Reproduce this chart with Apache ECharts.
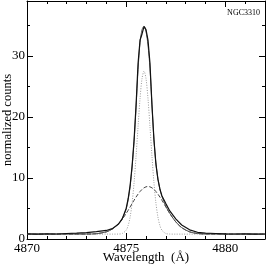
<!DOCTYPE html>
<html><head><meta charset="utf-8">
<script src="https://cdn.jsdelivr.net/npm/echarts@6/dist/echarts.min.js"></script>
<style>html,body{margin:0;padding:0;background:#fff}#c{width:266px;height:268px}</style>
</head><body><div id="c"></div>
<script>
const compWave = [4870,4871,4872,4873,4873.5,4874,4874.3,4874.6,4874.8,4875.0,4875.1,4875.2,4875.3,4875.4,4875.5,4875.6,4875.7,4875.8,4875.9,4876.0,4876.1,4876.2,4876.3,4876.4,4876.5,4876.6,4876.7,4876.8,4877.0,4877.2,4877.5,4877.8,4878.2,4878.6,4879,4880,4881,4882];
const narrowVals = [0.8,0.8,0.8,0.8,0.8,0.8,0.8,0.81,0.90,1.45,2.21,3.61,5.91,9.27,13.61,18.46,23.02,26.30,27.5,26.30,23.02,18.46,13.61,9.27,5.91,3.61,2.21,1.45,0.90,0.81,0.8,0.8,0.8,0.8,0.8,0.8,0.8,0.8];
const broadVals = [0.8,0.8,0.8,0.81,0.87,1.17,1.63,2.44,3.22,4.18,4.70,5.25,5.81,6.36,6.88,7.36,7.78,8.13,8.39,8.55,8.6,8.55,8.39,8.13,7.78,7.36,6.88,6.36,5.25,4.18,2.81,1.86,1.17,0.90,0.82,0.8,0.8,0.8];
const fitVals = [0.8,0.8,0.8,0.81,0.87,1.17,1.63,2.45,3.32,4.9,6.4,8.6,11.8,16.0,21.6,27.8,32.2,34.3,34.9,34.0,31.8,28.0,22.0,16.3,12.4,9.9,8.2,7.0,5.35,4.19,2.81,1.86,1.17,0.90,0.82,0.8,0.8,0.8];
const dataWave = [4870.0,4870.5,4871.0,4871.5,4872.0,4872.5,4873.0,4873.5,4874.0,4874.3,4874.6,4874.8,4875.0,4875.1,4875.2,4875.3,4875.4,4875.5,4875.6,4875.7,4875.8,4875.9,4876.0,4876.1,4876.2,4876.3,4876.4,4876.5,4876.6,4876.7,4876.8,4877.0,4877.2,4877.5,4877.8,4878.2,4878.6,4879.0,4879.5,4880.0,4880.5,4881.0,4881.5,4882.0];
const dataVals = [0.85,0.8,0.85,0.82,0.9,0.95,1.05,1.2,1.4,1.7,2.4,3.3,5.0,6.6,8.8,12.0,16.3,22.0,28.8,32.6,33.6,34.8,34.3,32.6,28.8,22.0,16.3,12.3,9.8,8.2,7.1,5.8,4.6,3.3,2.3,1.5,1.1,0.95,0.9,0.85,0.82,0.85,0.8,0.82];
const xRange = [4870, 4882];
const yRange = [0, 39];
const xLabel = 'Wavelength  (Å)';
const yLabel = 'normalized counts';
const tag = 'NGC3310';

const pair = (xs, ys) => xs.map((x, i) => [x, ys[i]]);
const font = 'Liberation Serif, Times New Roman, serif';
const chart = echarts.init(document.getElementById('c'), null, {renderer: 'canvas'});
const axisCommon = {
  axisLine: {show: true, onZero: false, lineStyle: {color: '#000', width: 1}},
  splitLine: {show: false},
  axisTick: {show: true, inside: true, length: 6, lineStyle: {color: '#000'}},
  minorTick: {show: true, splitNumber: 5, length: 3, lineStyle: {color: '#000'}}
};
chart.setOption({
  animation: false,
  grid: {left: 27, right: 1, top: 1, bottom: 29, containLabel: false, outerBoundsMode: 'none'},
  xAxis: [
    Object.assign({}, axisCommon, {type: 'value', min: xRange[0], max: xRange[1], interval: 5,
      name: xLabel, nameLocation: 'middle', nameGap: 12, nameMoveOverlap: false,
      nameTextStyle: {fontFamily: font, fontSize: 13, color: '#000'},
      axisLabel: {fontFamily: font, fontSize: 13, color: '#000', margin: 3, showMaxLabel: false,
        formatter: v => String(v)}}),
    Object.assign({}, axisCommon, {type: 'value', position: 'top', min: xRange[0], max: xRange[1], interval: 5,
      axisLabel: {show: false}})
  ],
  yAxis: [
    Object.assign({}, axisCommon, {type: 'value', min: yRange[0], max: yRange[1], interval: 10,
      minorTick: {show: true, splitNumber: 2, length: 3, lineStyle: {color: '#000'}},
      name: yLabel, nameLocation: 'middle', nameGap: 13, nameMoveOverlap: false,
      nameTextStyle: {fontFamily: font, fontSize: 12.5, color: '#000'},
      axisLabel: {fontFamily: font, fontSize: 13, color: '#000', margin: 2, showMaxLabel: false}}),
    Object.assign({}, axisCommon, {type: 'value', position: 'right', min: yRange[0], max: yRange[1], interval: 10,
      minorTick: {show: true, splitNumber: 2, length: 3, lineStyle: {color: '#000'}},
      axisLabel: {show: false}})
  ],
  graphic: [{type: 'text', right: 6, top: 9, style: {text: tag, font: '8px ' + font, fill: '#000'}}],
  series: [
    {type: 'line', data: pair(compWave, narrowVals), showSymbol: false, smooth: 0.3,
      lineStyle: {color: '#999', width: 1, type: [1, 1.5]}},
    {type: 'line', data: pair(compWave, broadVals), showSymbol: false, smooth: 0.3,
      lineStyle: {color: '#444', width: 1, type: [4, 2]}},
    {type: 'line', data: pair(compWave, fitVals), showSymbol: false, smooth: 0.3,
      lineStyle: {color: '#555', width: 1}},
    {type: 'line', data: pair(dataWave, dataVals), showSymbol: false,
      lineStyle: {color: '#111', width: 1.2}}
  ]
});
</script></body></html>
